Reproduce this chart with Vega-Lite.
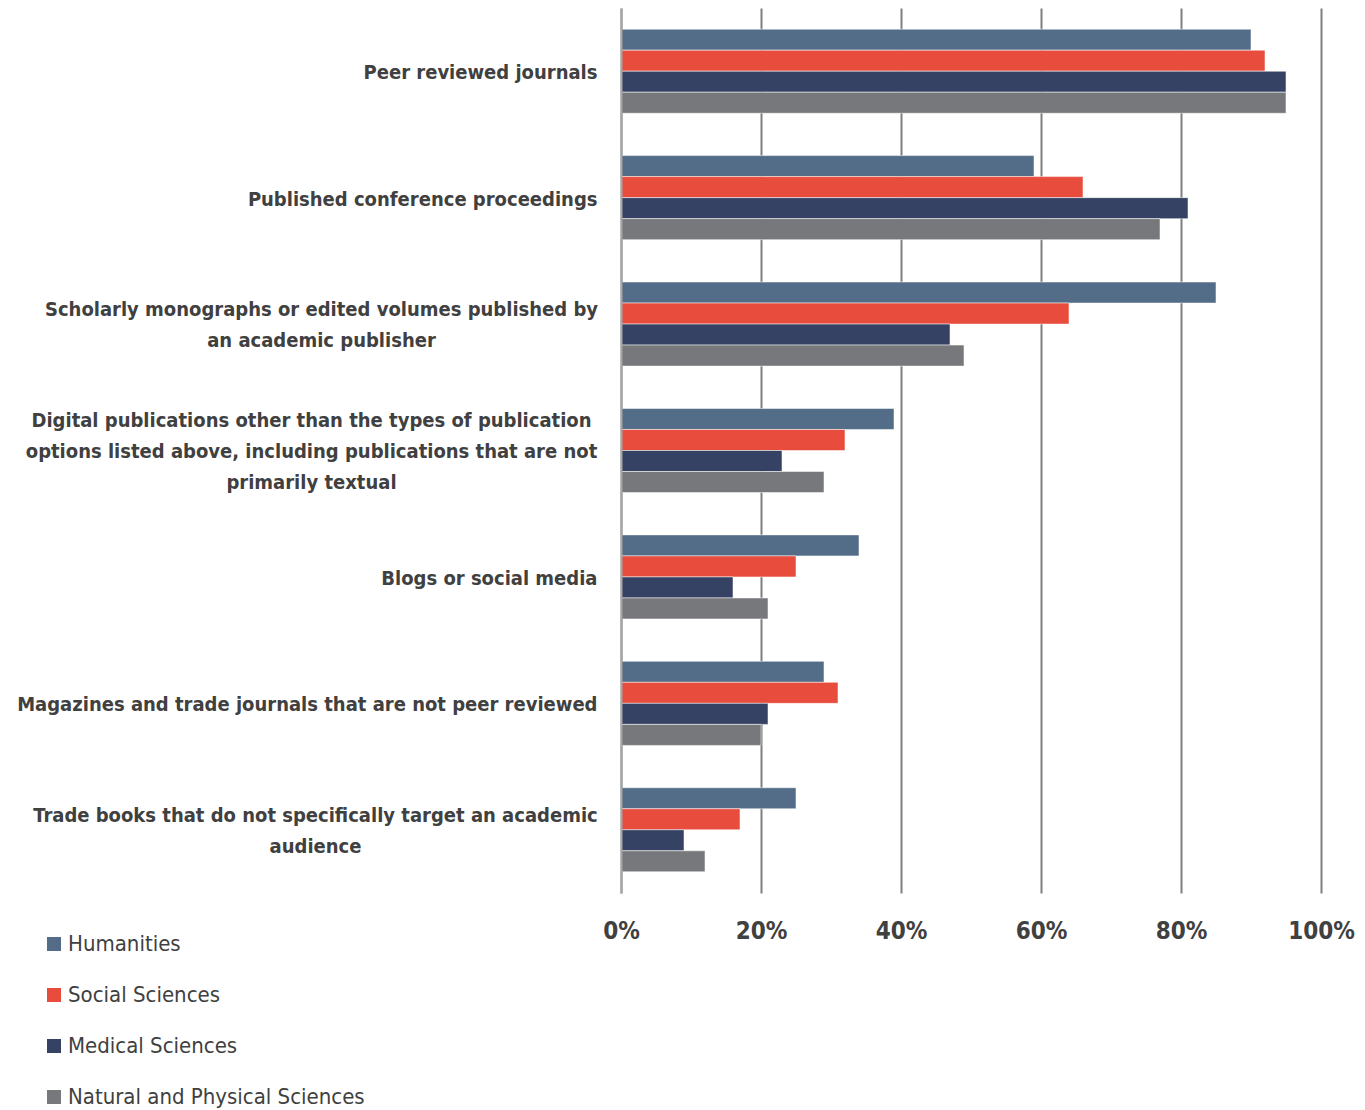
{
  "$schema": "https://vega.github.io/schema/vega-lite/v6.json",
  "width": 700,
  "height": 885,
  "autosize": {"type": "none"},
  "padding": {"left": 621, "top": 8, "right": 44, "bottom": 217},
  "config": {
    "view": {"stroke": null},
    "font": "DejaVu Sans Condensed"
  },
  "data": {
    "values": [
      {"category": "Peer reviewed journals", "group": "Humanities", "value": 90},
      {"category": "Peer reviewed journals", "group": "Social Sciences", "value": 92},
      {"category": "Peer reviewed journals", "group": "Medical Sciences", "value": 95},
      {"category": "Peer reviewed journals", "group": "Natural and Physical Sciences", "value": 95},
      {"category": "Published conference proceedings", "group": "Humanities", "value": 59},
      {"category": "Published conference proceedings", "group": "Social Sciences", "value": 66},
      {"category": "Published conference proceedings", "group": "Medical Sciences", "value": 81},
      {"category": "Published conference proceedings", "group": "Natural and Physical Sciences", "value": 77},
      {"category": "Scholarly monographs or edited volumes published by|an academic publisher", "group": "Humanities", "value": 85},
      {"category": "Scholarly monographs or edited volumes published by|an academic publisher", "group": "Social Sciences", "value": 64},
      {"category": "Scholarly monographs or edited volumes published by|an academic publisher", "group": "Medical Sciences", "value": 47},
      {"category": "Scholarly monographs or edited volumes published by|an academic publisher", "group": "Natural and Physical Sciences", "value": 49},
      {"category": "Digital publications other than the types of publication|options listed above, including publications that are not|primarily textual", "group": "Humanities", "value": 39},
      {"category": "Digital publications other than the types of publication|options listed above, including publications that are not|primarily textual", "group": "Social Sciences", "value": 32},
      {"category": "Digital publications other than the types of publication|options listed above, including publications that are not|primarily textual", "group": "Medical Sciences", "value": 23},
      {"category": "Digital publications other than the types of publication|options listed above, including publications that are not|primarily textual", "group": "Natural and Physical Sciences", "value": 29},
      {"category": "Blogs or social media", "group": "Humanities", "value": 34},
      {"category": "Blogs or social media", "group": "Social Sciences", "value": 25},
      {"category": "Blogs or social media", "group": "Medical Sciences", "value": 16},
      {"category": "Blogs or social media", "group": "Natural and Physical Sciences", "value": 21},
      {"category": "Magazines and trade journals that are not peer reviewed", "group": "Humanities", "value": 29},
      {"category": "Magazines and trade journals that are not peer reviewed", "group": "Social Sciences", "value": 31},
      {"category": "Magazines and trade journals that are not peer reviewed", "group": "Medical Sciences", "value": 21},
      {"category": "Magazines and trade journals that are not peer reviewed", "group": "Natural and Physical Sciences", "value": 20},
      {"category": "Trade books that do not specifically target an academic|audience", "group": "Humanities", "value": 25},
      {"category": "Trade books that do not specifically target an academic|audience", "group": "Social Sciences", "value": 17},
      {"category": "Trade books that do not specifically target an academic|audience", "group": "Medical Sciences", "value": 9},
      {"category": "Trade books that do not specifically target an academic|audience", "group": "Natural and Physical Sciences", "value": 12}
    ]
  },
  "mark": {"type": "bar", "stroke": "#ffffff", "strokeWidth": 1, "strokeOpacity": 0.5},
  "encoding": {
    "y": {
      "field": "category",
      "type": "nominal",
      "sort": null,
      "scale": {"paddingInner": 0.335, "paddingOuter": 0.1675},
      "axis": {
        "title": null,
        "domain": true,
        "domainColor": "#a6a6a6",
        "domainWidth": 2,
        "ticks": false,
        "zindex": 1,
        "labelFontSize": 20,
        "labelFontWeight": "bold",
        "labelColor": "#404040",
        "labelLimit": 1000,
        "labelLineHeight": 31,
        "labelAlign": {
          "condition": {"test": "length(split(datum.value, '|')) > 1", "value": "center"},
          "value": "right"
        },
        "labelPadding": {
          "condition": [
            {"test": "indexof(datum.value, 'Scholarly') == 0", "value": 300},
            {"test": "indexof(datum.value, 'Digital') == 0", "value": 310},
            {"test": "indexof(datum.value, 'Trade books') == 0", "value": 306}
          ],
          "value": 24
        },
        "labelOffset": {
          "condition": [
            {"test": "length(split(datum.value, '|')) == 3", "value": -30},
            {"test": "length(split(datum.value, '|')) == 2", "value": -14}
          ],
          "value": 2
        },
        "labelExpr": "split(datum.label, '|')"
      }
    },
    "yOffset": {
      "field": "group",
      "type": "nominal",
      "sort": ["Humanities", "Social Sciences", "Medical Sciences", "Natural and Physical Sciences"],
      "scale": {"paddingInner": 0, "paddingOuter": 0}
    },
    "x": {
      "field": "value",
      "type": "quantitative",
      "scale": {"domain": [0, 100]},
      "axis": {
        "title": null,
        "values": [0, 20, 40, 60, 80, 100],
        "labelExpr": "datum.value + '%'",
        "labelFlush": false,
        "grid": true,
        "gridColor": "#7f7f7f",
        "gridWidth": 2,
        "domain": false,
        "ticks": false,
        "labelFontSize": 24,
        "labelFontWeight": "bold",
        "labelColor": "#404040",
        "labelPadding": 26
      }
    },
    "color": {
      "field": "group",
      "type": "nominal",
      "sort": ["Humanities", "Social Sciences", "Medical Sciences", "Natural and Physical Sciences"],
      "scale": {
        "domain": ["Humanities", "Social Sciences", "Medical Sciences", "Natural and Physical Sciences"],
        "range": ["#536d88", "#e84c3d", "#364264", "#77787b"]
      },
      "legend": {
        "title": null,
        "orient": "none",
        "legendX": -578,
        "legendY": 925,
        "padding": 0,
        "symbolType": "square",
        "symbolSize": 196,
        "symbolStrokeWidth": 0,
        "symbolOpacity": 1,
        "labelFontSize": 22,
        "labelColor": "#404040",
        "labelOffset": 3,
        "rowPadding": 29,
        "labelLimit": 500
      }
    }
  }
}
